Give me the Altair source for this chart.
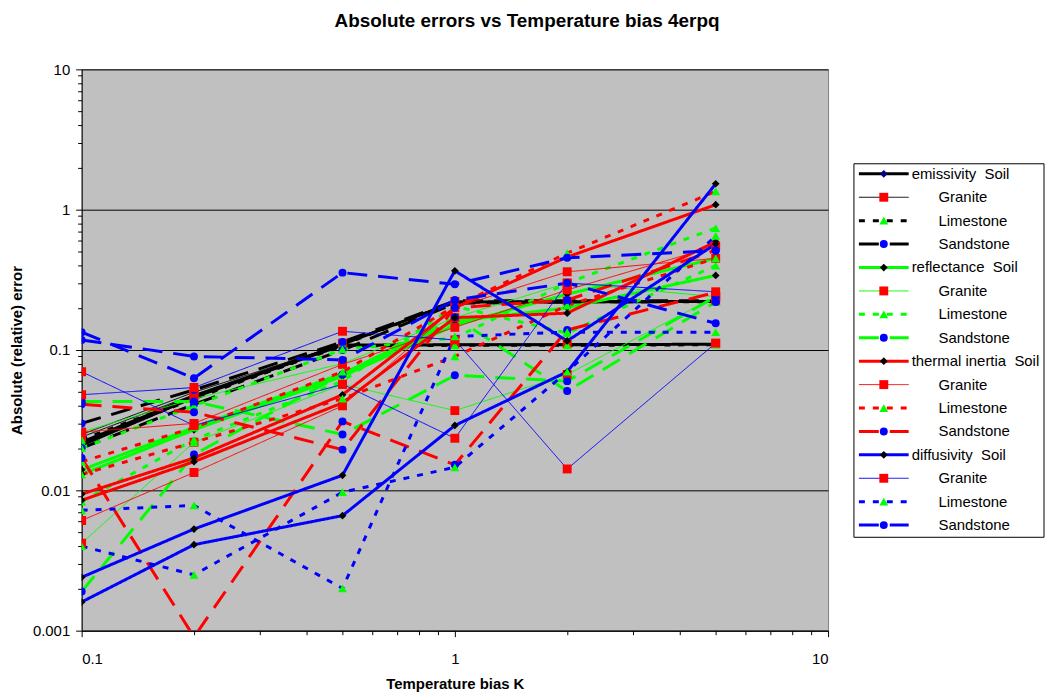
import altair as alt
import pandas as pd

# ---------------- data ----------------
x_bias = [0.1, 0.2, 0.5, 1, 2, 5]

params = ["emissivity", "reflectance", "thermal inertia", "diffusivity"]
rocks = ["Soil", "Granite", "Limestone", "Sandstone"]

# emissivity (black)
E_soil_a = [0.021, 0.046, 0.110, 0.220, 0.220, 0.222]
E_soil_b = [0.022, 0.047, 0.108, 0.109, 0.109, 0.110]
E_gran_a = [0.024, 0.048, 0.112, 0.222, 0.223, 0.224]
E_gran_b = [0.025, 0.050, 0.110, 0.110, 0.111, 0.111]
E_lime_a = [0.022, 0.045, 0.109, 0.219, 0.221, 0.221]
E_lime_b = [0.023, 0.046, 0.107, 0.108, 0.108, 0.109]
E_sand_a = [0.030, 0.052, 0.114, 0.224, 0.224, 0.225]
E_sand_b = [0.020, 0.041, 0.100, 0.215, 0.220, 0.222]

# reflectance (green)
R_soil_a = [0.014, 0.028, 0.068, 0.160, 0.200, 0.340]
R_soil_b = [0.013, 0.027, 0.065, 0.150, 0.250, 0.450]
R_gran_a = [0.0042, 0.022, 0.057, 0.037, 0.067, 0.240]
R_gran_b = [0.026, 0.045, 0.080, 0.170, 0.300, 0.240]
R_lime_a = [0.020, 0.040, 0.101, 0.122, 0.300, 0.740]
R_lime_b = [0.0083, 0.023, 0.060, 0.205, 0.132, 0.400]
R_sand_a = [0.0019, 0.018, 0.067, 0.171, 0.051, 0.220]
R_sand_b = [0.043, 0.043, 0.025, 0.066, 0.060, 0.240]

# thermal inertia (red)
T_soil_a = [0.0094, 0.017, 0.048, 0.200, 0.460, 1.085]
T_soil_b = [0.0085, 0.016, 0.042, 0.170, 0.183, 0.590]
T_gran_a = [0.0061, 0.0134, 0.040, 0.200, 0.361, 0.450]
T_gran_b = [0.026, 0.030, 0.079, 0.145, 0.268, 0.550]
T_lime_a = [0.016, 0.028, 0.070, 0.205, 0.490, 1.350]
T_lime_b = [0.013, 0.022, 0.045, 0.090, 0.207, 0.450]
T_sand_a = [0.017, 0.0009, 0.031, 0.0152, 0.139, 0.258]
T_sand_b = [0.041, 0.036, 0.0195, 0.200, 0.227, 0.514]

# diffusivity (blue)
D_soil_a = [0.0024, 0.0053, 0.0128, 0.367, 0.116, 0.570]
D_soil_b = [0.0016, 0.0041, 0.0066, 0.029, 0.070, 1.530]
D_gran_a = [0.070, 0.029, 0.057, 0.0235, 0.300, 0.260]
D_gran_b = [0.048, 0.054, 0.136, 0.118, 0.0142, 0.112]
D_lime_a = [0.0072, 0.0078, 0.0020, 0.125, 0.134, 0.134]
D_lime_b = [0.0040, 0.0025, 0.0097, 0.0146, 0.070, 0.650]
D_sand_a = [0.134, 0.063, 0.356, 0.294, 0.454, 0.510]
D_sand_b = [0.118, 0.090, 0.085, 0.227, 0.300, 0.155]

series = [
    ("emissivity", "Soil", E_soil_a), ("emissivity", "Soil", E_soil_b),
    ("emissivity", "Granite", E_gran_a), ("emissivity", "Granite", E_gran_b),
    ("emissivity", "Limestone", E_lime_a), ("emissivity", "Limestone", E_lime_b),
    ("emissivity", "Sandstone", E_sand_a), ("emissivity", "Sandstone", E_sand_b),
    ("reflectance", "Soil", R_soil_a), ("reflectance", "Soil", R_soil_b),
    ("reflectance", "Granite", R_gran_a), ("reflectance", "Granite", R_gran_b),
    ("reflectance", "Limestone", R_lime_a), ("reflectance", "Limestone", R_lime_b),
    ("reflectance", "Sandstone", R_sand_a), ("reflectance", "Sandstone", R_sand_b),
    ("thermal inertia", "Soil", T_soil_a), ("thermal inertia", "Soil", T_soil_b),
    ("thermal inertia", "Granite", T_gran_a), ("thermal inertia", "Granite", T_gran_b),
    ("thermal inertia", "Limestone", T_lime_a), ("thermal inertia", "Limestone", T_lime_b),
    ("thermal inertia", "Sandstone", T_sand_a), ("thermal inertia", "Sandstone", T_sand_b),
    ("diffusivity", "Soil", D_soil_a), ("diffusivity", "Soil", D_soil_b),
    ("diffusivity", "Granite", D_gran_a), ("diffusivity", "Granite", D_gran_b),
    ("diffusivity", "Limestone", D_lime_a), ("diffusivity", "Limestone", D_lime_b),
    ("diffusivity", "Sandstone", D_sand_a), ("diffusivity", "Sandstone", D_sand_b),
]

NB = "\u00a0"
legend_labels = [
    "emissivity" + NB + NB + "Soil", "Granite", "Limestone", "Sandstone",
    "reflectance" + NB + NB + "Soil", "Granite", "Limestone", "Sandstone",
    "thermal inertia" + NB + NB + "Soil", "Granite", "Limestone", "Sandstone",
    "diffusivity" + NB + NB + "Soil", "Granite", "Limestone", "Sandstone",
]

# ---------------- styles ----------------
param_colors = ["#000000", "#00FF00", "#FF0000", "#0000FF"]
rock_fills = ["#000000", "#FF0000", "#00FF00", "#0000FF"]
rock_shapes = ["diamond", "square", "triangle-up", "circle"]
rock_dash = [[1, 0], [1, 0], [6, 8], [20, 11]]
rock_width = [3, 1, 3, 3]
rock_size = [60, 80, 80, 64]
FONT = "Liberation Sans"

rows = []
for sid, (p, r, vals) in enumerate(series):
    for xv, yv in zip(x_bias, vals):
        rows.append({"sid": sid, "param": p, "rock": r, "bias": xv, "err": yv})
df = pd.DataFrame(rows)

leg_rows = []
for i, lab in enumerate(legend_labels):
    leg_rows.append({"idx": i, "param": params[i // 4], "rock": rocks[i % 4], "label": lab})
leg = pd.DataFrame(leg_rows)

y_ticks = [d * k for d in [0.001, 0.01, 0.1, 1] for k in range(1, 10)] + [10]
x_ticks = [d * k for d in [0.1, 1] for k in range(1, 10)] + [10]

dec_test = "abs(log(datum.value)/LN10 - round(log(datum.value)/LN10)) < 0.000001"
lab_expr = "(" + dec_test + ") ? format(datum.value, '~g') : ''"

stroke_scale = alt.Scale(domain=params, range=param_colors)
dash_scale = alt.Scale(type="ordinal", domain=rocks, range=rock_dash)
width_scale = alt.Scale(type="ordinal", domain=rocks, range=rock_width)
fill_scale = alt.Scale(domain=rocks, range=rock_fills)
shape_scale = alt.Scale(domain=rocks, range=rock_shapes)
size_scale = alt.Scale(type="ordinal", domain=rocks, range=rock_size)

x_enc = alt.X(
    "bias:Q",
    scale=alt.Scale(type="log", domain=[0.1, 10], nice=False),
    axis=alt.Axis(
        values=x_ticks, labelExpr=lab_expr, grid=False,
        tickSize={"condition": {"test": dec_test, "value": 6}, "value": 4},
        tickColor="black", domainColor="black", labelColor="black",
        labelFont=FONT, labelFontSize=15, labelPadding=15,
        title="Temperature bias K", titleFont=FONT, titleFontSize=15,
        titleFontWeight="bold", titlePadding=10, titleColor="black",
    ),
)
y_enc = alt.Y(
    "err:Q",
    scale=alt.Scale(type="log", domain=[0.001, 10], nice=False),
    axis=alt.Axis(
        values=y_ticks, labelExpr=lab_expr, grid=True, gridColor="black",
        gridOpacity={"condition": {"test": dec_test, "value": 1}, "value": 0},
        tickSize={"condition": {"test": dec_test, "value": 6}, "value": 4},
        tickColor="black", domainColor="black", labelColor="black",
        labelFont=FONT, labelFontSize=15, labelPadding=6,
        title="Absolute (relative) error", titleFont=FONT, titleFontSize=15,
        titleFontWeight="bold", titlePadding=8, titleColor="black",
    ),
)

lines = alt.Chart(df).mark_line(clip=True, strokeCap="butt").encode(
    x=x_enc,
    y=y_enc,
    detail="sid:N",
    stroke=alt.Stroke("param:N", scale=stroke_scale, legend=None),
    strokeDash=alt.StrokeDash("rock:N", scale=dash_scale, legend=None),
    strokeWidth=alt.StrokeWidth("rock:N", scale=width_scale, legend=None),
    order="bias:Q",
)

points = alt.Chart(df).mark_point(filled=True, opacity=1, strokeWidth=0, clip=True).encode(
    x="bias:Q",
    y="err:Q",
    fill=alt.Fill("rock:N", scale=fill_scale, legend=None),
    shape=alt.Shape("rock:N", scale=shape_scale, legend=None),
    size=alt.Size("rock:N", scale=size_scale, legend=None),
)

main = alt.layer(lines, points).properties(
    width=750, height=564,
    view=alt.ViewBackground(fill="#C0C0C0", stroke="#808080", strokeWidth=1),
)

# ---------------- legend panel ----------------
lx = alt.Scale(domain=[0, 191], nice=False, zero=False)
ly = alt.Scale(domain=[-4.462, 19.507], nice=False, zero=False, reverse=True)

box = alt.Chart(pd.DataFrame({"a": [0]})).mark_rect(
    fill="white", stroke="black", strokeWidth=1
).encode(
    x=alt.X("x0:Q", scale=lx, axis=None),
    x2="x1:Q",
    y=alt.Y("y0:Q", scale=ly, axis=None),
    y2="y1:Q",
).transform_calculate(x0="1", x1="192", y0="-0.43", y1="15.52")

leg_lines = alt.Chart(leg).mark_rule(strokeCap="butt").encode(
    x=alt.X("lx1:Q", scale=lx, axis=None),
    x2="lx2:Q",
    y=alt.Y("idx:Q", scale=ly, axis=None),
    stroke=alt.Stroke("param:N", scale=stroke_scale, legend=None),
    strokeDash=alt.StrokeDash("rock:N", scale=dash_scale, legend=None),
    strokeWidth=alt.StrokeWidth("rock:N", scale=width_scale, legend=None),
).transform_calculate(lx1="6", lx2="56")

leg_pts = alt.Chart(leg).mark_point(filled=True, opacity=1, strokeWidth=0).encode(
    x=alt.X("mx:Q", scale=lx, axis=None),
    y=alt.Y("idx:Q", scale=ly, axis=None),
    fill=alt.condition("datum.idx == 0", alt.value("#000080"),
                       alt.Fill("rock:N", scale=fill_scale, legend=None)),
    shape=alt.Shape("rock:N", scale=shape_scale, legend=None),
    size=alt.Size("rock:N", scale=size_scale, legend=None),
).transform_calculate(mx="31")

leg_text = alt.Chart(leg).mark_text(
    align="left", baseline="middle", font=FONT, fontSize=15, color="black"
).encode(
    x=alt.X("tx:Q", scale=lx, axis=None),
    y=alt.Y("idx:Q", scale=ly, axis=None),
    text="label:N",
).transform_calculate(tx="datum.rock == 'Soil' ? 59 : 86")

legend = alt.layer(box, leg_lines, leg_pts, leg_text).properties(
    width=191, height=564,
    view=alt.ViewBackground(stroke="transparent", fill="transparent"),
)

chart = alt.hconcat(main, legend, spacing=25, bounds="flush").resolve_scale(
    x="independent", y="independent", stroke="independent", fill="independent",
    shape="independent", size="independent", strokeDash="independent",
    strokeWidth="independent",
).properties(
    title=alt.TitleParams(
        "Absolute errors vs Temperature bias 4erpq", font=FONT, fontSize=19,
        fontWeight="bold", anchor="middle", offset=31, color="black",
    ),
    padding={"left": 0, "top": 2, "right": 2, "bottom": 2},
    background="white",
)

chart.save("out.html", embed_options={"renderer": "svg", "actions": False})
